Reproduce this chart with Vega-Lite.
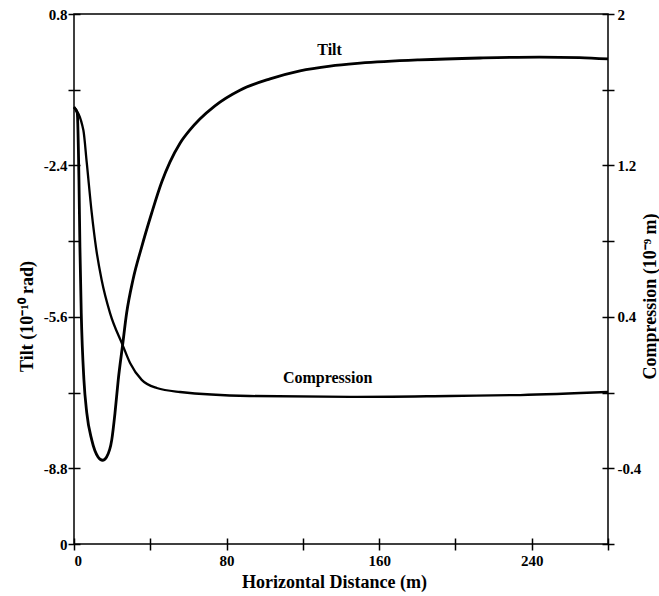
{
  "$schema": "https://vega.github.io/schema/vega-lite/v6.json",
  "width": 534,
  "height": 530,
  "autosize": "none",
  "padding": {"left": 74, "top": 14, "right": 51, "bottom": 52},
  "background": "white",
  "config": {
    "view": {"stroke": "black", "strokeWidth": 1.5},
    "font": "Liberation Serif",
    "axis": {
      "domain": false, "offset": -6,
      "tickColor": "black", "labelColor": "black", "titleColor": "black",
      "labelFont": "Liberation Serif", "titleFont": "Liberation Serif",
      "labelFontWeight": "bold", "titleFontWeight": "bold",
      "labelFontSize": 15, "titleFontSize": 18,
      "grid": false, "tickWidth": 1.5, "tickSize": 12
    }
  },
  "datasets": {
    "tilt": [
      {"d": 0, "v": -1.17}, {"d": 1.7, "v": -1.29}, {"d": 2.6, "v": -2.71}, {"d": 3.1, "v": -4.12},
      {"d": 3.8, "v": -5.52}, {"d": 5.2, "v": -6.93}, {"d": 6.7, "v": -7.63}, {"d": 9.3, "v": -8.2},
      {"d": 12.6, "v": -8.56}, {"d": 15.0, "v": -8.63}, {"d": 17.1, "v": -8.56}, {"d": 19.8, "v": -8.2},
      {"d": 21.5, "v": -7.63}, {"d": 23.2, "v": -6.93}, {"d": 25.5, "v": -6.19}, {"d": 27.6, "v": -5.52},
      {"d": 30.9, "v": -4.82}, {"d": 35.5, "v": -4.12}, {"d": 40.7, "v": -3.41}, {"d": 46.0, "v": -2.75},
      {"d": 50.3, "v": -2.33}, {"d": 55.6, "v": -1.93}, {"d": 60.8, "v": -1.65}, {"d": 66.0, "v": -1.42},
      {"d": 73.9, "v": -1.14}, {"d": 87.0, "v": -0.81}, {"d": 102.8, "v": -0.57}, {"d": 118.5, "v": -0.4},
      {"d": 134.3, "v": -0.3}, {"d": 150, "v": -0.24}, {"d": 181, "v": -0.17}, {"d": 213, "v": -0.13},
      {"d": 244, "v": -0.11}, {"d": 265, "v": -0.12}, {"d": 280, "v": -0.15}
    ],
    "comp": [
      {"d": 0, "c": 1.509}, {"d": 4.9, "c": 1.387}, {"d": 6.7, "c": 1.213}, {"d": 9.3, "c": 0.949},
      {"d": 11.5, "c": 0.769}, {"d": 14.5, "c": 0.595}, {"d": 18.9, "c": 0.42}, {"d": 25.5, "c": 0.251},
      {"d": 29.4, "c": 0.156}, {"d": 35.5, "c": 0.067}, {"d": 43.4, "c": 0.024}, {"d": 55.6, "c": 0.003},
      {"d": 92, "c": -0.018}, {"d": 145, "c": -0.023}, {"d": 197, "c": -0.018}, {"d": 234, "c": -0.013},
      {"d": 280, "c": 0.003}
    ],
    "tiltLabel": [{"d": 134, "v": 0.04, "label": "Tilt"}],
    "compLabel": [{"d": 133, "c": 0.077, "label": "Compression"}]
  },
  "layer": [
    {
      "layer": [
        {
          "data": {"name": "tilt"},
          "mark": {"type": "line", "color": "black", "strokeWidth": 2.8, "interpolate": "monotone"},
          "encoding": {
            "x": {
              "field": "d", "type": "quantitative",
              "scale": {"domain": [0, 280], "nice": false, "zero": false},
              "axis": {
                "values": [0, 40, 80, 120, 160, 200, 240, 280],
                "labelExpr": "datum.value % 80 == 0 ? '' + datum.value : ''",
                "labelPadding": 3,
                "title": "Horizontal Distance (m)",
                "titleX": 260, "titleY": 44, "titleAlign": "center", "titleBaseline": "middle"
              }
            },
            "y": {
              "field": "v", "type": "quantitative",
              "scale": {"domain": [-10.4, 0.8], "nice": false, "zero": false},
              "axis": {
                "orient": "left",
                "values": [0.8, -0.8, -2.4, -4, -5.6, -7.2, -8.8, -10.4],
                "labelExpr": "datum.value < -10 ? '0' : (indexof([0.8, -2.4, -5.6, -8.8], datum.value) >= 0 ? '' + datum.value : '')",
                "labelPadding": 1,
                "title": "Tilt (10⁻¹⁰ rad)",
                "titleX": -53, "titleY": 302, "titleAngle": 270, "titleAlign": "center", "titleBaseline": "middle"
              }
            }
          }
        },
        {
          "data": {"name": "tiltLabel"},
          "mark": {"type": "text", "font": "Liberation Serif", "fontWeight": "bold", "fontSize": 16, "color": "black"},
          "encoding": {
            "x": {"field": "d", "type": "quantitative"},
            "y": {"field": "v", "type": "quantitative"},
            "text": {"field": "label"}
          }
        }
      ]
    },
    {
      "layer": [
        {
          "data": {"name": "comp"},
          "mark": {"type": "line", "color": "black", "strokeWidth": 2.3, "interpolate": "monotone"},
          "encoding": {
            "x": {"field": "d", "type": "quantitative"},
            "y": {
              "field": "c", "type": "quantitative",
              "scale": {"domain": [-0.8, 2], "nice": false, "zero": false},
              "axis": {
                "orient": "right",
                "values": [2, 1.6, 1.2, 0.8, 0.4, 0, -0.4, -0.8],
                "labelExpr": "indexof([2, 1.2, 0.4, -0.4], datum.value) >= 0 ? '' + datum.value : ''",
                "labelPadding": 3,
                "title": "Compression (10⁻⁹ m)",
                "titleX": 48, "titleY": 282, "titleAngle": 270, "titleAlign": "center", "titleBaseline": "middle"
              }
            }
          }
        },
        {
          "data": {"name": "compLabel"},
          "mark": {"type": "text", "font": "Liberation Serif", "fontWeight": "bold", "fontSize": 16, "color": "black"},
          "encoding": {
            "x": {"field": "d", "type": "quantitative"},
            "y": {"field": "c", "type": "quantitative"},
            "text": {"field": "label"}
          }
        }
      ]
    }
  ],
  "resolve": {"scale": {"y": "independent"}, "axis": {"y": "independent"}}
}
